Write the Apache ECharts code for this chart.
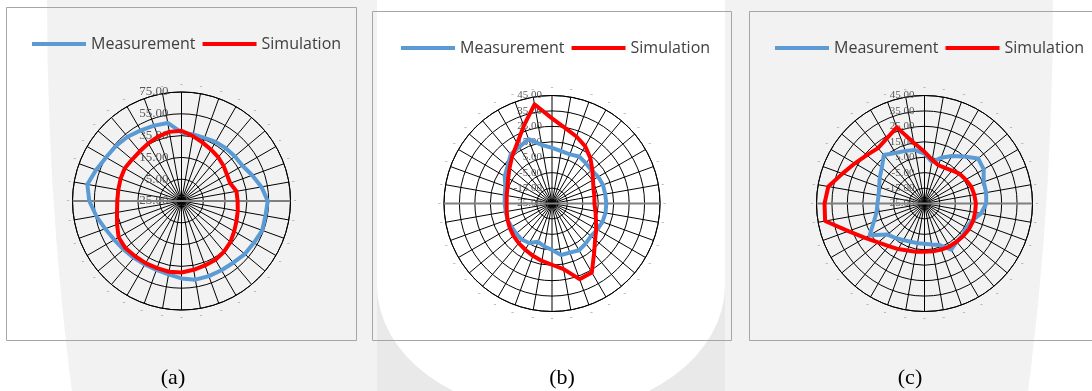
<!DOCTYPE html>
<html><head><meta charset="utf-8">
<script src="https://cdn.jsdelivr.net/npm/echarts@6/dist/echarts.min.js"></script>
<style>html,body{margin:0;padding:0;background:#fff;}#c{width:1092px;height:391px;}</style>
</head><body><div id="c"></div>
<script>
// angle categories (degrees clockwise from top)
const angleDeg = [0,10,20,30,40,50,60,70,80,90,100,110,120,130,140,150,160,170,180,190,200,210,220,230,240,250,260,270,280,290,300,310,320,330,340,350];
const seriesNames = ['Measurement', 'Simulation'];
const panelCaptions = ['(a)', '(b)', '(c)'];

// radial scales
const radiusMinA = -25, radiusMaxA = 75, radiusStepA = 20;
const radiusMinBC = -25, radiusMaxBC = 45, radiusStepBC = 10;

// panel (a)
const measA = [37.9,37.0,36.6,37.6,38.2,38.8,39.7,44.0,49.5,54.1,53.2,53.8,51.7,50.8,48.9,48.3,48.3,48.3,46.0,43.4,42.2,42.2,43.1,44.3,46.2,49.5,54.4,59.6,62.7,58.4,55.0,53.5,52.0,49.8,48.6,47.7];
const simA  = [39.4,35.4,32.0,29.3,27.4,25.3,23.2,22.5,26.2,26.5,27.4,28.7,30.8,33.6,35.7,37.3,37.9,39.1,40.6,40.9,40.6,40.9,41.2,42.2,41.6,37.9,35.1,33.9,33.9,34.5,35.1,34.2,34.5,36.0,37.9,39.4];
// panel (b)
const measB = [11.1,9.4,8.9,10.2,9.1,8.5,9.6,10.2,10.0,10.2,10.2,9.8,8.9,7.9,8.9,10.0,8.9,8.9,5.1,3.3,1.4,4.6,5.5,5.3,5.3,5.7,5.5,5.7,6.1,7.2,10.4,12.6,16.6,17.3,19.4,13.6];
const simB  = [30.2,24.6,21.2,17.9,13.6,9.1,5.7,3.6,2.9,2.5,3.6,5.3,8.1,11.5,17.4,26.6,27.2,18.2,14.7,12.8,11.1,9.6,8.5,7.6,6.6,5.7,4.8,4.4,4.8,5.7,7.8,10.9,15.1,20.1,28.5,40.3];
// panel (c)
const measC = [7.4,2.4,6.5,10.6,14.7,20.4,19.3,15.8,15.6,15.0,12.2,7.8,6.5,7.2,7.4,9.6,3.7,2.0,1.1,1.1,1.4,2.4,4.2,6.3,16.0,10.0,6.5,5.5,5.2,6.3,8.5,11.1,16.0,12.8,11.3,10.2];
const simC  = [8.5,3.7,1.4,1.6,2.9,4.8,5.9,7.2,7.8,8.3,8.3,8.5,8.3,7.8,7.4,7.2,6.8,6.5,6.3,6.8,7.4,9.1,11.1,14.3,19.5,27.5,40.4,39.8,38.3,31.6,27.1,23.8,21.9,23.8,27.5,15.0];

const colors = ['#5b9bd5', '#ff0000'];

const panels = [
  {meas: measA, sim: simA, min: radiusMinA, max: radiusMaxA, step: radiusStepA,
   center: [181.5, 201], radius: 109, labelSize: 13, labelMargin: 13,
   legendLeft: 32, legendTop: 36, caption: [173, 378]},
  {meas: measB, sim: simB, min: radiusMinBC, max: radiusMaxBC, step: radiusStepBC,
   center: [552, 203.5], radius: 108, labelSize: 11, labelMargin: 10,
   legendLeft: 401, legendTop: 40, caption: [562, 378]},
  {meas: measC, sim: simC, min: radiusMinBC, max: radiusMaxBC, step: radiusStepBC,
   center: [924.5, 203.5], radius: 108, labelSize: 11, labelMargin: 10,
   legendLeft: 775, legendTop: 40, caption: [910, 378]}
];

function toPolar(vals, min) {
  const pts = vals.map((v, i) => [v - min, angleDeg[i]]);
  pts.push([vals[0] - min, 360]);
  return pts;
}

const polar = [], angleAxis = [], radiusAxis = [], series = [], legend = [];
panels.forEach((p, i) => {
  polar.push({center: p.center, radius: p.radius});
  angleAxis.push({
    polarIndex: i, type: 'value', min: 0, max: 360, interval: 10, startAngle: 90, clockwise: true,
    axisLine: {show: true, lineStyle: {color: '#000', width: 1}},
    axisTick: {show: false},
    axisLabel: {show: true, formatter: () => '-', color: '#a6a6a6', fontSize: 9, margin: 3},
    splitLine: {show: true, lineStyle: {color: '#000', width: 1}}
  });
  radiusAxis.push({
    polarIndex: i, type: 'value', min: 0, max: p.max - p.min, interval: p.step,
    axisLine: {show: false}, axisTick: {show: false},
    axisLabel: {formatter: v => (v + p.min).toFixed(2), fontFamily: 'Liberation Serif',
      fontSize: p.labelSize, color: '#595959', margin: p.labelMargin},
    splitLine: {show: true, lineStyle: {color: '#000', width: 1}}
  });
  series.push({
    type: 'line', coordinateSystem: 'polar', polarIndex: i, silent: true, z: 1,
    data: [[p.max - p.min, 90], [p.max - p.min, 270]], symbol: 'none',
    lineStyle: {color: '#7f7f7f', width: 2}
  });
  [p.meas, p.sim].forEach((vals, k) => {
    series.push({
      name: seriesNames[k], type: 'line', coordinateSystem: 'polar', polarIndex: i,
      data: toPolar(vals, p.min), symbol: 'none', smooth: false, z: 3,
      color: colors[k],
      lineStyle: {color: colors[k], width: 4, cap: 'round', join: 'round'}
    });
  });
  legend.push({
    left: p.legendLeft, top: p.legendTop, padding: 0, orient: 'horizontal',
    itemWidth: 54, itemHeight: 4, itemGap: 7, icon: 'rect', selectedMode: false,
    data: seriesNames,
    textStyle: {fontFamily: 'Open Sans', fontSize: 16, color: '#404040'}
  });
});

const graphic = [
  // faint watermark
  {type: 'circle', x: 550, y: 0, scaleY: 2.5, shape: {cx: 0, cy: 0, r: 503}, style: {fill: '#f2f2f2'}, z: -20, silent: true},
  {type: 'rect', shape: {x: 377, y: 0, width: 348, height: 391}, style: {fill: '#e9e9e9'}, z: -19, silent: true},
  {type: 'rect', shape: {x: 377, y: 0, width: 348, height: 285}, style: {fill: '#ffffff'}, z: -18, silent: true},
  {type: 'circle', x: 551, y: 285, scaleY: 0.736, shape: {cx: 0, cy: 0, r: 174}, style: {fill: '#ffffff'}, z: -18, silent: true},
  // panel frames
  {type: 'rect', shape: {x: 6.5, y: 7.5, width: 350, height: 333}, style: {fill: null, stroke: '#a6a6a6', lineWidth: 1}, z: -5, silent: true},
  {type: 'rect', shape: {x: 372.5, y: 11.5, width: 359, height: 329}, style: {fill: null, stroke: '#a6a6a6', lineWidth: 1}, z: -5, silent: true},
  {type: 'rect', shape: {x: 749.5, y: 11.5, width: 400, height: 329}, style: {fill: null, stroke: '#a6a6a6', lineWidth: 1}, z: -5, silent: true}
];
panels.forEach((p, i) => {
  graphic.push({type: 'text', x: p.caption[0], y: p.caption[1], silent: true,
    style: {text: panelCaptions[i], fill: '#000', font: '22px "Liberation Serif"', align: 'center', verticalAlign: 'middle'}});
});

const chart = echarts.init(document.getElementById('c'), null, {renderer: 'canvas'});
chart.setOption({
  animation: false,
  backgroundColor: '#fff',
  polar, angleAxis, radiusAxis, series, legend, graphic
});
</script></body></html>
